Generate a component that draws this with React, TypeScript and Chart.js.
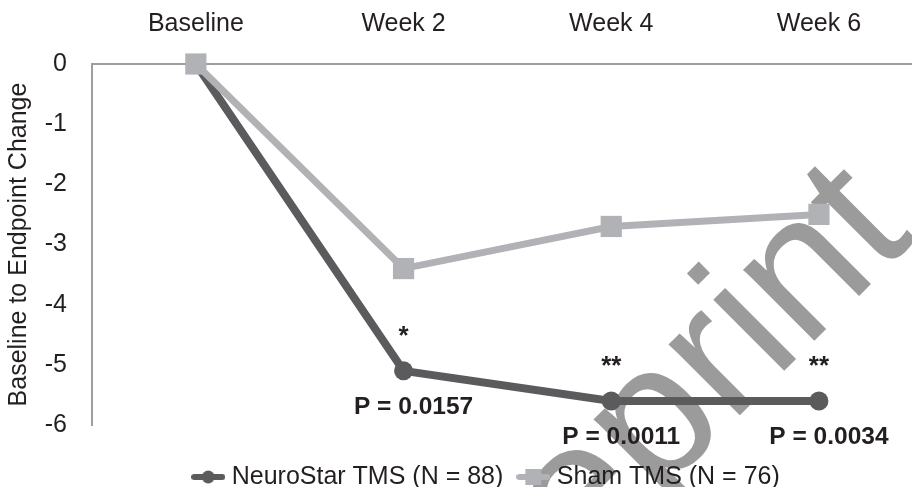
import React, { useEffect, useRef } from 'react';
import { Chart, registerables } from 'chart.js';

Chart.register(...registerables);

// ---- data ----
const categories = ['Baseline', 'Week 2', 'Week 4', 'Week 6'];
const neuroStarValues = [0, -5.1, -5.6, -5.6];
const shamValues = [0, -3.4, -2.7, -2.5];
const yTickValues = [0, -1, -2, -3, -4, -5, -6];
const significanceMarks = ['', '*', '**', '**'];
const pValueLabels = ['', 'P = 0.0157', 'P = 0.0011', 'P = 0.0034'];
const seriesNames = ['NeuroStar TMS (N = 88)', 'Sham TMS (N = 76)'];
const yAxisTitle = 'Baseline to Endpoint Change';
const watermarkText = 'Reprint';

// ---- styles ----
const CANVAS_W = 977;
const CANVAS_H = 487;
const FONT = "'Liberation Sans', Arial, Helvetica, sans-serif";
const NEURO = '#5b5b5e';
const SHAM = '#b1b2b5';
const AXIS = '#9d9d9d';
const TEXT = '#231f20';
const WATERMARK = '#9b9b9b';

function makeIcon(color: string, shape: 'circle' | 'rect') {
  const c = document.createElement('canvas');
  c.width = 34;
  c.height = 20;
  const ctx = c.getContext('2d')!;
  ctx.strokeStyle = color;
  ctx.fillStyle = color;
  ctx.lineWidth = 6;
  ctx.lineCap = 'round';
  ctx.beginPath();
  ctx.moveTo(3, 10);
  ctx.lineTo(31, 10);
  ctx.stroke();
  if (shape === 'circle') {
    ctx.beginPath();
    ctx.arc(17, 10, 6.5, 0, Math.PI * 2);
    ctx.fill();
  } else {
    ctx.fillRect(9, 2, 16, 16);
  }
  return c;
}

const watermarkPlugin = {
  id: 'watermark',
  beforeDraw(chart: any) {
    const ctx = chart.ctx;
    ctx.save();
    ctx.translate(484, 671);
    ctx.rotate(-Math.PI / 4);
    ctx.font = `190px ${FONT}`;
    ctx.fillStyle = WATERMARK;
    ctx.textAlign = 'left';
    ctx.textBaseline = 'alphabetic';
    ctx.fillText(watermarkText, 0, 0);
    ctx.restore();
  },
};

const legendShiftPlugin = {
  id: 'legendShift',
  afterLayout(chart: any) {
    const l = chart.legend;
    if (l) {
      l.top += 20.5;
      l.bottom += 20.5;
    }
  },
};

const annotationPlugin = {
  id: 'annotations',
  afterDatasetsDraw(chart: any) {
    const ctx = chart.ctx;
    const xs = chart.scales.x;
    const ys = chart.scales.y;
    ctx.save();
    ctx.fillStyle = TEXT;
    ctx.textAlign = 'center';
    ctx.textBaseline = 'alphabetic';
    neuroStarValues.forEach((v, i) => {
      const px = xs.getPixelForValue(i);
      const py = ys.getPixelForValue(v);
      if (significanceMarks[i]) {
        ctx.font = `bold 26px ${FONT}`;
        ctx.fillText(significanceMarks[i], px, py - 27);
      }
      if (pValueLabels[i]) {
        ctx.font = `bold 24.5px ${FONT}`;
        ctx.fillText(pValueLabels[i], px + 10, py + 43);
      }
    });
    ctx.restore();
  },
};

export default function App() {
  const ref = useRef<HTMLCanvasElement | null>(null);

  useEffect(() => {
    if (!ref.current) return;
    const neuroIcon = makeIcon(NEURO, 'circle');
    const shamIcon = makeIcon(SHAM, 'rect');
    Chart.defaults.font.family = FONT;

    const chart = new Chart(ref.current, {
      type: 'line',
      data: {
        datasets: [
          {
            label: seriesNames[0],
            data: neuroStarValues.map((v, i) => ({ x: i, y: v })),
            borderColor: NEURO,
            backgroundColor: NEURO,
            borderWidth: 8,
            pointStyle: 'circle',
            pointRadius: 9.5,
            pointBorderWidth: 0,
            pointBackgroundColor: NEURO,
            tension: 0,
            clip: false,
            order: 2,
          } as any,
          {
            label: seriesNames[1],
            data: shamValues.map((v, i) => ({ x: i, y: v })),
            borderColor: SHAM,
            backgroundColor: SHAM,
            borderWidth: 7,
            pointStyle: 'rect',
            pointRadius: 15,
            pointBorderWidth: 0,
            pointBackgroundColor: SHAM,
            tension: 0,
            clip: false,
            order: 1,
          } as any,
        ],
      },
      options: {
        responsive: false,
        animation: false,
        devicePixelRatio: 1,
        layout: { padding: { top: 0, left: 0, right: 0, bottom: 8 }, autoPadding: false },
        scales: {
          x: {
            type: 'linear',
            position: 'top',
            min: -0.5,
            max: 3.761,
            bounds: 'data',
            afterBuildTicks: (scale: any) => {
              scale.ticks = categories.map((_, i) => ({ value: i }));
            },
            afterFit: (scale: any) => {
              scale.height = 64;
            },
            ticks: {
              autoSkip: false,
              maxRotation: 0,
              padding: 25,
              color: TEXT,
              font: { size: 25, family: FONT },
              callback: (v: any) => categories[Number(v)] ?? '',
            },
            grid: { display: false, drawTicks: false },
            border: { display: true, color: AXIS, width: 2 },
          },
          y: {
            type: 'linear',
            min: -6,
            max: 0,
            afterBuildTicks: (scale: any) => {
              scale.ticks = yTickValues.map((v) => ({ value: v }));
            },
            afterFit: (scale: any) => {
              scale.width = 92;
            },
            ticks: {
              padding: 25,
              color: TEXT,
              font: { size: 25, family: FONT },
              callback: (v: any) => String(v),
            },
            title: {
              display: true,
              text: yAxisTitle,
              color: TEXT,
              font: { size: 25, family: FONT },
              padding: { top: 4, bottom: 4 },
            },
            grid: { display: false, drawTicks: false },
            border: { display: true, color: AXIS, width: 2 },
          },
        },
        plugins: {
          legend: {
            display: true,
            position: 'bottom',
            align: 'center',
            labels: {
              usePointStyle: true,
              pointStyleWidth: 22,
              padding: 19,
              color: TEXT,
              font: { size: 25, family: FONT },
              generateLabels: () => [
                {
                  text: seriesNames[0],
                  pointStyle: neuroIcon,
                  fillStyle: NEURO,
                  strokeStyle: NEURO,
                  lineWidth: 0,
                  hidden: false,
                  datasetIndex: 0,
                  fontColor: TEXT,
                } as any,
                {
                  text: seriesNames[1],
                  pointStyle: shamIcon,
                  fillStyle: SHAM,
                  strokeStyle: SHAM,
                  lineWidth: 0,
                  hidden: false,
                  datasetIndex: 1,
                  fontColor: TEXT,
                } as any,
              ],
            },
          },
          tooltip: { enabled: false },
        },
      } as any,
      plugins: [watermarkPlugin, legendShiftPlugin, annotationPlugin],
    });

    return () => chart.destroy();
  }, []);

  return (
    <div
      style={{
        position: 'absolute',
        left: 0,
        top: 0,
        width: 912,
        height: 487,
        overflow: 'hidden',
        background: '#ffffff',
      }}
    >
      <canvas
        ref={ref}
        width={CANVAS_W}
        height={CANVAS_H}
        style={{ display: 'block', width: CANVAS_W, height: CANVAS_H }}
      />
    </div>
  );
}
